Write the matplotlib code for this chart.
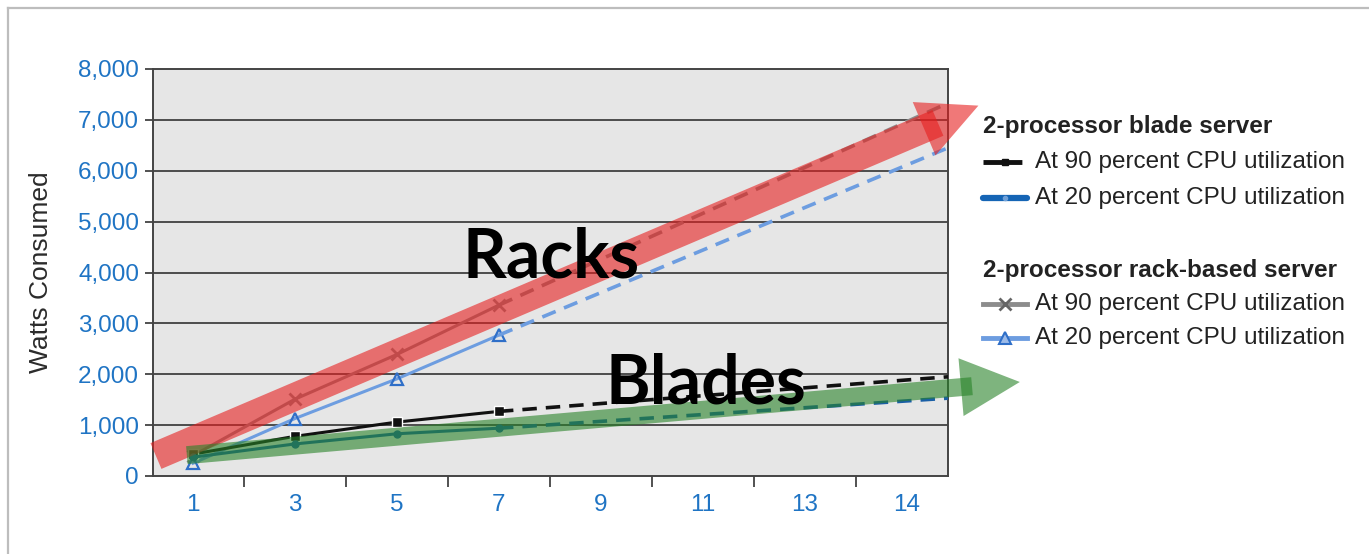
import numpy as np
import matplotlib
matplotlib.use("Agg")
import matplotlib.pyplot as plt
from matplotlib.lines import Line2D
from matplotlib.patches import Polygon
from matplotlib.transforms import IdentityTransform

# number of servers on the x axis (categorical)
servers = ["1", "3", "5", "7", "9", "11", "13", "14"]
measured = [0, 1, 2, 3]      # category slots with measured points
XMAX = 7.402
projected = [3, XMAX]        # dashed projection runs out to the right edge

# watts consumed
rack_90 = [400, 1510, 2390, 3360]
rack_90_proj = [3360, 7330]
rack_20 = [250, 1130, 1910, 2770]
rack_20_proj = [2770, 6450]
blade_90 = [430, 780, 1060, 1270]
blade_90_proj = [1270, 1950]
blade_20 = [370, 630, 830, 940]
blade_20_proj = [940, 1530]

yticks = [0, 1000, 2000, 3000, 4000, 5000, 6000, 7000, 8000]

W, H = 1369, 554
BLUE_TXT = "#1f74c4"
FONT = "Liberation Sans"


def fx(x):
    return x / W


def fy(y):
    return 1 - y / H


fig = plt.figure(figsize=(W / 100, H / 100), dpi=100)
fig.patch.set_facecolor("white")

ax = fig.add_axes([fx(153), fy(476), (948 - 153) / W, (476 - 69) / H])
ax.set_facecolor("#e6e6e6")
ax.set_xlim(-0.392, XMAX)
ax.set_ylim(0, 8000)

# horizontal grid
for v in yticks[1:-1]:
    ax.axhline(v, color="#333333", lw=1.2, zorder=1)
for s in ax.spines.values():
    s.set_color("#444444")
    s.set_linewidth(1.4)

ax.set_yticks(yticks)
ax.set_yticklabels([f"{v:,}" for v in yticks], fontsize=17.5, color=BLUE_TXT, family=FONT)
ax.tick_params(axis="y", length=6, width=1.2, color="#333333", pad=4)
ax.set_xticks(range(len(servers)))
ax.set_xticklabels(servers, fontsize=17.5, color=BLUE_TXT, family=FONT)
ax.set_xticks(np.arange(0.5, 7, 1), minor=True)
ax.tick_params(axis="x", which="major", length=0, pad=13)
ax.tick_params(axis="x", which="minor", length=8, width=1.2, color="#333333")

# series: solid with markers for measured values, dashed for projection
dash = (0, (4, 2.5))
ax.plot(measured, rack_90, color="#8c8c8c", lw=2.2, marker="x", ms=9, mew=2, zorder=3)
ax.plot(projected, rack_90_proj, color="#8c8c8c", lw=2.6, ls=dash, zorder=3)
ax.plot(measured, rack_20, color="#6d9de0", lw=2.2, marker="^", ms=9, mew=1.6,
        mfc="none", mec="#2f6fc8", zorder=3)
ax.plot(projected, rack_20_proj, color="#6d9de0", lw=2.6, ls=dash, zorder=3)
ax.plot(measured, blade_90, color="#111111", lw=2.2, marker="s", ms=7, mec="white",
        mew=1, zorder=4)
ax.plot(projected, blade_90_proj, color="#111111", lw=2.6, ls=dash, zorder=4)
ax.plot(measured, blade_20, color="#1a5fa6", lw=2.2, marker="o", ms=5, zorder=4)
ax.plot(projected, blade_20_proj, color="#1a5fa6", lw=2.6, ls=dash, zorder=4)

fig.text(fx(41), fy(272), "Watts Consumed", rotation=90, ha="center", va="center",
         fontsize=19, color="#2b2b2b", family=FONT)


def block_arrow(start, tip, shaft_w, head_w, head_len, over, color, alpha):
    # shaft and head drawn separately so the overlap shows darker
    p0 = ax.transData.transform(start)
    p1 = ax.transData.transform(tip)
    d = p1 - p0
    u = d / np.hypot(*d)
    n = np.array([-u[1], u[0]])
    base = p1 - u * head_len
    end = base + u * over
    shaft = [p0 + n * shaft_w / 2, end + n * shaft_w / 2, end - n * shaft_w / 2, p0 - n * shaft_w / 2]
    head = [base + n * head_w / 2, p1, base - n * head_w / 2]
    for pts in (shaft, head):
        fig.add_artist(Polygon(pts, closed=True, transform=IdentityTransform(),
                               fc=color, ec="none", alpha=alpha, zorder=5))


block_arrow((-0.363, 393), (7.70, 7280), 28, 58, 59, 15, "#e61e1e", 0.6)
block_arrow((-0.06, 410), (8.106, 1848), 18, 58, 59, 11, "#288228", 0.6)

fig.text(fx(551), fy(278), "Racks", ha="center", va="baseline", fontsize=49,
         fontweight="bold", family="Lato", color="black", zorder=6)
fig.text(fx(706), fy(403), "Blades", ha="center", va="baseline", fontsize=49,
         fontweight="bold", family="Lato", color="black", zorder=6)

# legend drawn by hand
lx0, lx1, tx = 983, 1027, 1035
fig.text(fx(983), fy(127), "2-processor blade server", fontsize=17.5, fontweight="bold",
         family=FONT, color="#222222", va="center")
fig.text(fx(983), fy(270), "2-processor rack-based server", fontsize=17.5, fontweight="bold",
         family=FONT, color="#222222", va="center")
rows = [
    (162, "At 90 percent CPU utilization", dict(color="#111111", lw=3.5, ls=(0, (8, 1.5, 3, 1.5))), "s", dict(ms=4, mfc="#111111", mec="#111111")),
    (198, "At 20 percent CPU utilization", dict(color="#1565b5", lw=4.5, solid_capstyle="round"), "o", dict(ms=3, mfc="#6fa0d8", mec="#6fa0d8")),
    (304, "At 90 percent CPU utilization", dict(color="#8c8c8c", lw=3.5), "x", dict(ms=8, mew=2, mec="#666666")),
    (338, "At 20 percent CPU utilization", dict(color="#6d9de0", lw=3.5), "^", dict(ms=9, mfc="#9dbbe8", mec="#2f6fc8", mew=1.5)),
]
for y, label, lstyle, mk, mstyle in rows:
    fig.add_artist(Line2D([fx(lx0), fx(lx1)], [fy(y), fy(y)], transform=fig.transFigure, **lstyle))
    fig.add_artist(Line2D([fx((lx0 + lx1) / 2)], [fy(y)], transform=fig.transFigure, marker=mk,
                          ls="none", **mstyle))
    fig.text(fx(tx), fy(y), label, fontsize=17.5, family=FONT, color="#222222", va="center")

# outer frame
fig.add_artist(Line2D([fx(8), fx(8)], [fy(8), 0], color="#bdbdbd", lw=1.6, transform=fig.transFigure))
fig.add_artist(Line2D([fx(8), 1], [fy(8), fy(8)], color="#bdbdbd", lw=1.6, transform=fig.transFigure))

fig.savefig("out.png", dpi=100)
